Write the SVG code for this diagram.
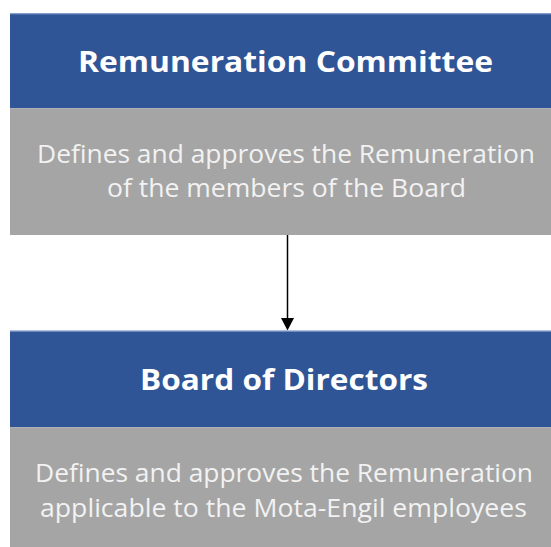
<svg xmlns="http://www.w3.org/2000/svg" width="551" height="547" viewBox="0 0 551 547">
  <style>
    .head { fill: #2F5597; }
    .edge { stroke: #8EA6D0; stroke-width: 1; }
    .body { fill: #A5A5A5; }
    .title { font-family: "Open Sans", "Liberation Sans", sans-serif; font-weight: bold; font-size: 29px; fill: #FFFFFF; text-anchor: middle; }
    .desc { font-family: "Open Sans", "Liberation Sans", sans-serif; font-size: 25px; fill: #F2F2F2; text-anchor: middle; }
    .conn { stroke: #000000; stroke-width: 1.5; fill: none; }
    .head-arrow { fill: #000000; }
  </style>
  <rect width="551" height="547" fill="#FFFFFF"/>
  <g id="remuneration-committee">
    <rect class="head" x="10" y="13.3" width="560" height="95"/>
    <line class="edge" x1="10" y1="13.8" x2="570" y2="13.8"/>
    <rect class="body" x="10" y="108.3" width="560" height="126.7"/>
    <text class="title" x="285.5" y="72" textLength="415" lengthAdjust="spacingAndGlyphs">Remuneration Committee</text>
    <text class="desc" x="286" y="162.7" textLength="498" lengthAdjust="spacingAndGlyphs">Defines and approves the Remuneration</text>
    <text class="desc" x="286.5" y="197" textLength="359" lengthAdjust="spacingAndGlyphs">of the members of the Board</text>
  </g>
  <g id="connectors">
    <line class="conn" x1="287.5" y1="235" x2="287.5" y2="318"/>
    <path class="head-arrow" d="M281,318 L294,318 L287.5,330.5 Z"/>
  </g>
  <g id="board-of-directors">
    <rect class="head" x="10" y="330.7" width="560" height="96.6"/>
    <line class="edge" x1="10" y1="331.2" x2="570" y2="331.2"/>
    <rect class="body" x="10" y="427.3" width="560" height="120"/>
    <text class="title" x="284" y="390" textLength="288" lengthAdjust="spacingAndGlyphs">Board of Directors</text>
    <text class="desc" x="284" y="482.3" textLength="498" lengthAdjust="spacingAndGlyphs">Defines and approves the Remuneration</text>
    <text class="desc" x="283.5" y="516.5" textLength="487" lengthAdjust="spacingAndGlyphs">applicable to the Mota-Engil employees</text>
  </g>
</svg>
